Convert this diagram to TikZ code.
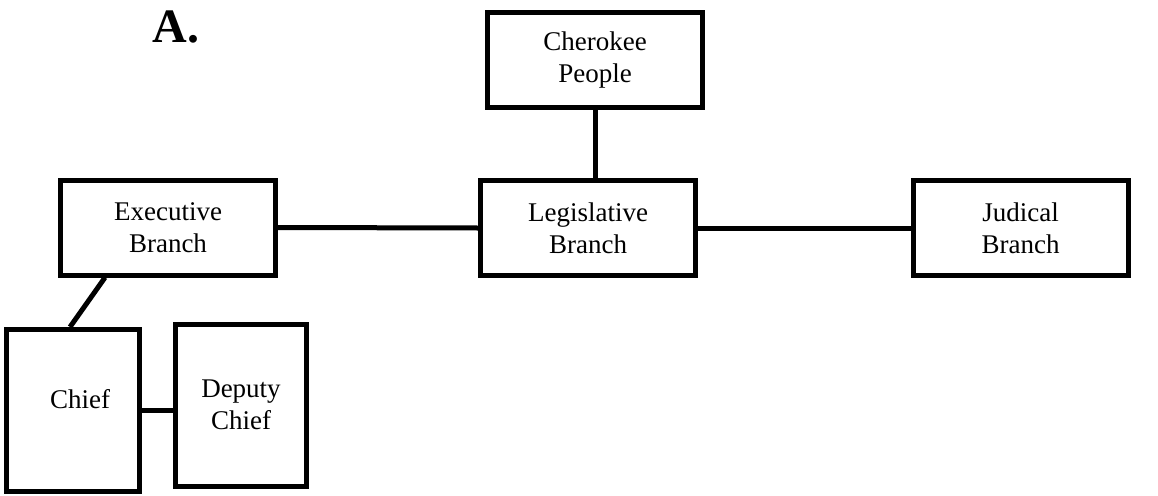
\documentclass[tikz,border=0pt]{standalone}
\usepackage{fontspec}
\setmainfont{Liberation Serif}
\usetikzlibrary{positioning}

\begin{document}
\begin{tikzpicture}[x=1pt, y=-1pt,
  box/.style={draw, line width=5pt, minimum width=215pt, minimum height=95pt, inner sep=0pt, align=center, font=\fontsize{27}{32}\selectfont},
  tallbox/.style={box, minimum width=133pt, minimum height=162pt},
  link/.style={line width=5pt}
]
  \useasboundingbox (0,0) rectangle (1158,495);
  \node[anchor=base west, font=\fontsize{48}{48}\selectfont\bfseries] (title) at (149,43) {A.};
  \node[box] (people) at (595,60) {Cherokee\\People};
  \node[box] (leg) at (588,228) {Legislative\\Branch};
  \node[box] (exec) at (168,227.5) {Executive\\Branch};
  \node[box] (jud) at (1020.5,228) {Judical\\Branch};
  \node[tallbox] (chief) at (73,410.5) {\hspace*{14pt}\raisebox{24pt}{Chief}};
  \node[tallbox, minimum width=131pt] (deputy) at (241,405) {Deputy\\Chief};
  \draw[link] (people.south) -- (people.south |- leg.north);
  \draw[link] (exec.east) -- (leg.west); \draw[link] (leg.east) -- (jud.west);
  \draw[link] ([xshift=-63pt]exec.south) -- ([xshift=-3pt]chief.north);
  \draw[link] (chief.east) -- (chief.east -| deputy.west);
\end{tikzpicture}
\end{document}
